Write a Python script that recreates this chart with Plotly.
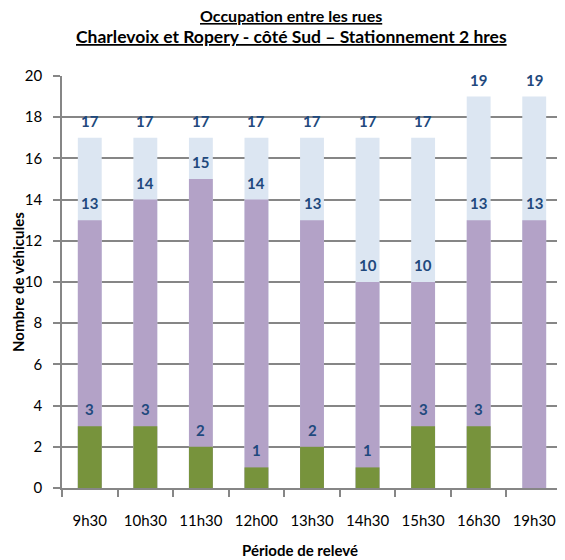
import plotly.graph_objects as go

categories = ["9h30", "10h30", "11h30", "12h00", "13h30", "14h30", "15h30", "16h30", "19h30"]
total_places = [17, 17, 17, 17, 17, 17, 17, 19, 19]
occupied = [13, 14, 15, 14, 13, 10, 10, 13, 13]
green_vals = [3, 3, 2, 1, 2, 1, 3, 3, 0]

title_line1 = "Occupation entre les rues"
title_line2 = "Charlevoix et Ropery - côté Sud – Stationnement 2 hres"
y_title = "Nombre de véhicules"
x_title = "Période de relevé"

colors = {"total": "#DCE6F2", "occ": "#B3A2C7", "green": "#77933C"}
label_color = "#1F497D"
font_family = "Lato, 'Open Sans', sans-serif"

# page body has an 8px default margin: figure is sized/offset to compensate
W, H = 557, 552

fig = go.Figure()
for vals, key in [(total_places, "total"), (occupied, "occ"), (green_vals, "green")]:
    fig.add_trace(go.Bar(x=categories, y=vals, marker=dict(color=colors[key], line=dict(width=0)),
                         width=0.43, showlegend=False, hoverinfo="x+y"))

annotations = []
for vals in (total_places, occupied, green_vals):
    for c, v in zip(categories, vals):
        if v == 0:
            continue
        annotations.append(dict(x=c, y=v, text=f"<b>{v}</b>", showarrow=False, yanchor="bottom",
                                yshift=6, font=dict(family=font_family, size=15, color=label_color)))

annotations.append(dict(xref="paper", yref="paper", x=0.458, y=1.148, yanchor="middle",
                        text=f"<b><u>{title_line1}</u></b>", showarrow=False,
                        font=dict(family=font_family, size=16, color="black")))
annotations.append(dict(xref="paper", yref="paper", x=0.458, y=1.095, yanchor="middle",
                        text=f"<b><u>{title_line2}</u></b>", showarrow=False,
                        font=dict(family=font_family, size=17.5, color="black")))
annotations.append(dict(xref="paper", yref="paper", x=-0.088, xanchor="center", y=0.5,
                        text=f"<b>{y_title}</b>",
                        textangle=-90, showarrow=False, font=dict(family=font_family, size=15, color="black")))
annotations.append(dict(xref="paper", yref="paper", x=0.476, y=-0.150, yanchor="middle",
                        text=f"<b>{x_title}</b>", showarrow=False,
                        font=dict(family=font_family, size=15, color="black")))

fig.update_layout(
    width=W, height=H,
    barmode="overlay",
    plot_bgcolor="white", paper_bgcolor="white",
    margin=dict(l=54, r=3, t=68, b=72),
    annotations=annotations,
    xaxis=dict(showline=True, linecolor="#868686", linewidth=1.5, ticks="outside", tickson="boundaries",
               ticklen=7, tickcolor="#868686", tickwidth=1.5, showgrid=False,
               tickfont=dict(family=font_family, size=15, color="black"), ticklabelstandoff=18),
    yaxis=dict(range=[0, 20], dtick=2, showline=True, linecolor="#868686", linewidth=1.5,
               showgrid=True, gridcolor="#868686", gridwidth=1.5, ticks="outside", ticklen=7,
               tickcolor="#868686", tickwidth=1.5, zeroline=False,
               tickfont=dict(family=font_family, size=15, color="black"), ticklabelstandoff=8),
    font=dict(family=font_family),
)

fig.write_html("out.html")
